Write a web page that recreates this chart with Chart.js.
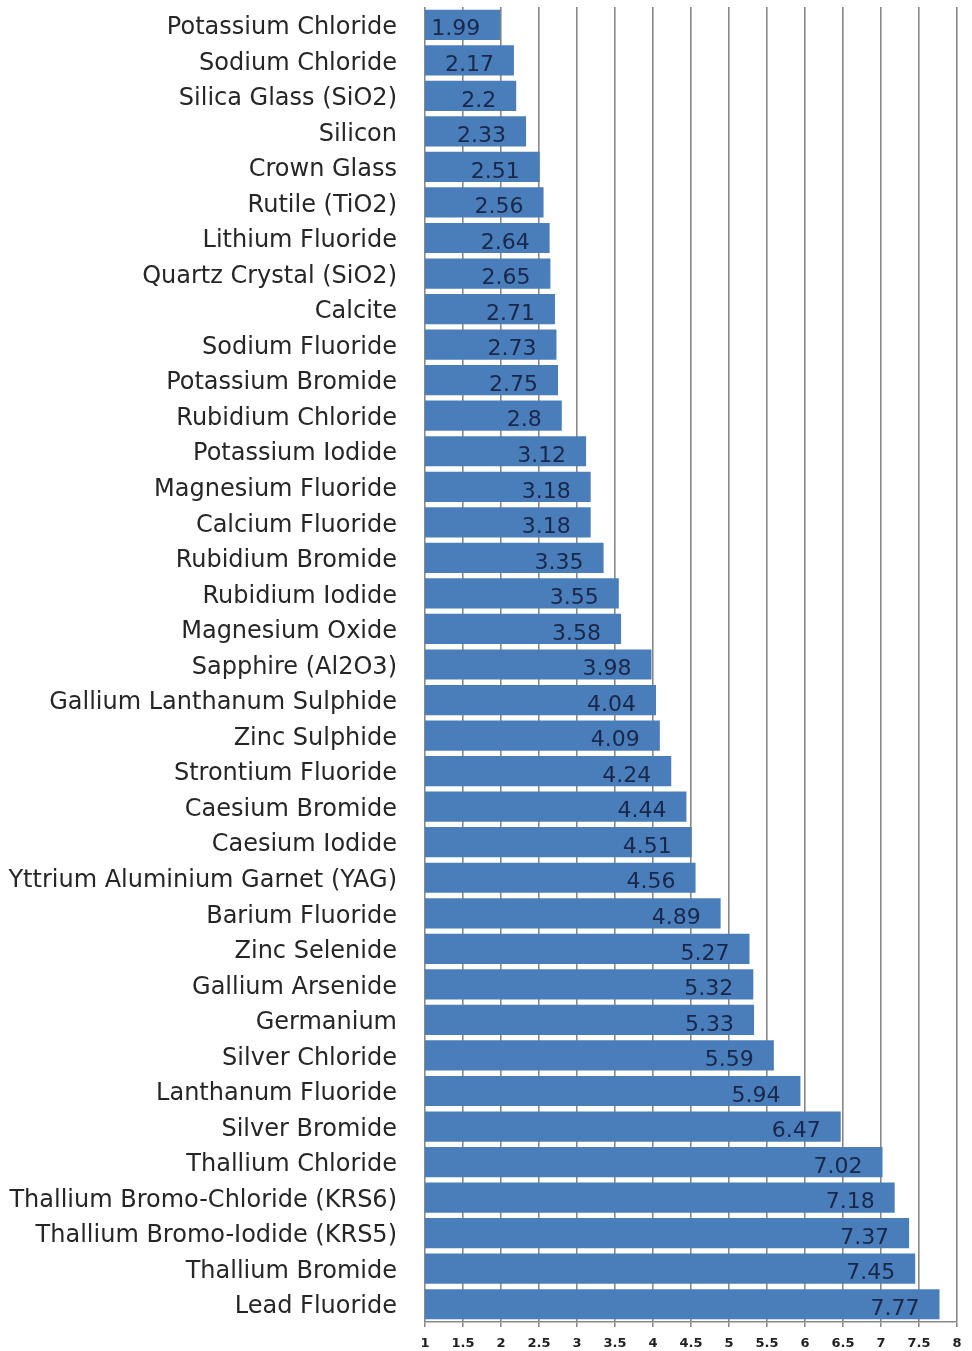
<!DOCTYPE html>
<html>
<head>
<meta charset="utf-8">
<script src="https://cdn.jsdelivr.net/npm/chart.js@4"></script>
<style>
html,body{margin:0;padding:0;background:#fff;}
#wrap{width:972px;height:1351px;position:relative;}
</style>
</head>
<body>
<div id="wrap"><canvas id="c"></canvas></div>
<script>
const categories = [
  "Potassium Chloride","Sodium Chloride","Silica Glass (SiO2)","Silicon","Crown Glass",
  "Rutile (TiO2)","Lithium Fluoride","Quartz Crystal (SiO2)","Calcite","Sodium Fluoride",
  "Potassium Bromide","Rubidium Chloride","Potassium Iodide","Magnesium Fluoride","Calcium Fluoride",
  "Rubidium Bromide","Rubidium Iodide","Magnesium Oxide","Sapphire (Al2O3)","Gallium Lanthanum Sulphide",
  "Zinc Sulphide","Strontium Fluoride","Caesium Bromide","Caesium Iodide","Yttrium Aluminium Garnet (YAG)",
  "Barium Fluoride","Zinc Selenide","Gallium Arsenide","Germanium","Silver Chloride",
  "Lanthanum Fluoride","Silver Bromide","Thallium Chloride","Thallium Bromo-Chloride (KRS6)","Thallium Bromo-Iodide (KRS5)",
  "Thallium Bromide","Lead Fluoride"
];
const values = [
  1.99,2.17,2.2,2.33,2.51,
  2.56,2.64,2.65,2.71,2.73,
  2.75,2.8,3.12,3.18,3.18,
  3.35,3.55,3.58,3.98,4.04,
  4.09,4.24,4.44,4.51,4.56,
  4.89,5.27,5.32,5.33,5.59,
  5.94,6.47,7.02,7.18,7.37,
  7.45,7.77
];
const xTickValues = [1,1.5,2,2.5,3,3.5,4,4.5,5,5.5,6,6.5,7,7.5,8];
const xTickLabels = ["1","1.5","2","2.5","3","3.5","4","4.5","5","5.5","6","6.5","7","7.5","8"];

const valueLabels = {
  id: 'valueLabels',
  afterDatasetsDraw(chart) {
    const ctx = chart.ctx;
    const meta = chart.getDatasetMeta(0);
    ctx.save();
    ctx.font = '22px "DejaVu Sans"';
    ctx.fillStyle = '#18274a';
    ctx.textAlign = 'right';
    ctx.textBaseline = 'middle';
    meta.data.forEach((bar, i) => {
      const txt = String(values[i]);
      const w = ctx.measureText(txt).width;
      let right = bar.x - 20;
      const minLeft = bar.base + 16;
      if (right - w < minLeft) right = minLeft + w;
      ctx.fillText(txt, right, bar.y + 5);
    });
    ctx.restore();
  }
};

new Chart(document.getElementById('c'), {
  type: 'bar',
  data: {
    labels: categories,
    datasets: [{
      data: values,
      backgroundColor: '#4a7ebb',
      borderWidth: 0,
      barPercentage: 0.85,
      categoryPercentage: 1.0
    }]
  },
  options: {
    indexAxis: 'y',
    responsive: true,
    maintainAspectRatio: false,
    animation: false,
    layout: { padding: { left: 0, right: 15, top: 7, bottom: 0 } },
    plugins: { legend: { display: false }, tooltip: { enabled: false } },
    scales: {
      x: {
        type: 'linear',
        min: xTickValues[0], max: xTickValues[xTickValues.length - 1],
        afterBuildTicks(scale) { scale.ticks = xTickValues.map(v => ({ value: v })); },
        ticks: {
          color: '#222', font: { family: 'DejaVu Sans', size: 13, weight: 'bold' }, padding: 9, maxRotation: 0, autoSkip: false,
          callback(v, i) { return xTickLabels[i]; }
        },
        grid: { color: '#888888', lineWidth: 1.6, drawTicks: true, tickLength: 5, tickColor: '#888888' },
        border: { display: true, color: '#888888', width: 1.6 },
        afterFit(scale) { scale.height = 29; scale.paddingLeft = 0; scale.paddingRight = 0; }
      },
      y: {
        ticks: { color: '#262626', font: { family: 'DejaVu Sans', size: 24 }, padding: 28, autoSkip: false, labelOffset: 3 },
        grid: { display: false, drawTicks: false },
        border: { display: false },
        afterFit(scale) { scale.width = 425; scale.paddingTop = 0; scale.paddingBottom = 0; }
      }
    }
  },
  plugins: [valueLabels]
});
</script>
</body>
</html>
